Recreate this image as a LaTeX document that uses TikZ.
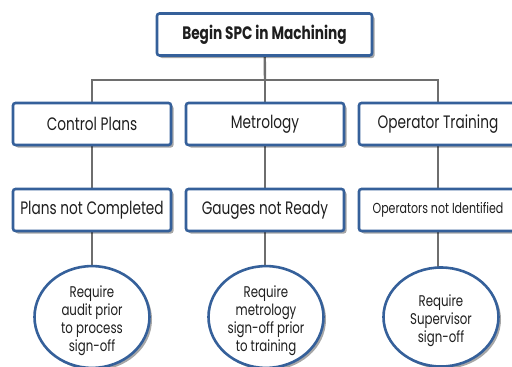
\documentclass[tikz,border=0pt]{standalone}
\usepackage{fontspec}
\setmainfont[FakeStretch=0.76]{Poppins}
\usetikzlibrary{shapes.geometric,shadows,backgrounds}
\definecolor{bblue}{HTML}{35609A}
\definecolor{lgray}{HTML}{6E6E6E}
\definecolor{txt}{HTML}{1E1E1E}
\newcommand\ovtext[1]{\raisebox{-4pt}[\height][\depth]{\begin{tabular}{@{}c@{}}#1\end{tabular}}}
\tikzset{
  box/.style={draw=bblue, line width=2.6pt, rounded corners=2.5pt, fill=white, text=txt,
    minimum width=158pt, minimum height=42pt, inner sep=0pt,
    drop shadow={shadow xshift=2.5pt, shadow yshift=-2.5pt, fill=black, opacity=0.35},
    font=\fontsize{18}{20}\selectfont},
  oval/.style={ellipse, draw=bblue, line width=2.6pt, fill=white, text=txt,
    minimum width=115pt, minimum height=99pt, inner sep=0pt, align=center,
    drop shadow={shadow xshift=2.5pt, shadow yshift=-2.5pt, fill=black, opacity=0.35},
    font=\fontsize{15.5}{18}\selectfont},
  conn/.style={draw=lgray, line width=2.4pt}
}
\begin{document}
\begin{tikzpicture}[x=1pt,y=1pt]
\useasboundingbox (0,0) rectangle (512,-367);
\node[box, minimum width=215pt, font=\bfseries\fontsize{18}{20}\selectfont] (top) at (264.5,-34.5) {Begin SPC in Machining};
\node[box] (cp) at (92,-124) {Control Plans};
\node[box] (me) at (265,-124) {Metrology};
\node[box] (ot) at (438,-124) {Operator Training};
\node[box] (pn) at (92,-210) {Plans not Completed};
\node[box] (gn) at (265,-210) {Gauges not Ready};
\node[box, font=\fontsize{14.5}{16}\selectfont] (on) at (438,-210) {Operators not Identified};
\node[oval] (e1) at (92,-317) {\ovtext{Require\\audit prior\\to process\\sign-off}};
\node[oval] (e2) at (266,-317) {\ovtext{Require\\metrology\\sign-off prior\\to training}};
\node[oval] (e3) at (441,-317) {\ovtext{Require\\Supervisor\\sign-off}};
\coordinate (hm) at (265,-80);
\begin{scope}[on background layer]
  \draw[conn] (top.center) -- (hm);
  \draw[conn] (cp.center) |- (hm) -| (ot.center);
  \draw[conn] (me.center) -- (hm);
  \draw[conn] (cp.center) -- (pn.center);
  \draw[conn] (me.center) -- (gn.center);
  \draw[conn] (ot.center) -- (on.center);
  \draw[conn] (pn.center) -- (pn.center |- e1.center);
  \draw[conn] (gn.center) -- (gn.center |- e2.center);
  \draw[conn] (on.center) -- (on.center |- e3.center);
\end{scope}
\end{tikzpicture}
\end{document}
